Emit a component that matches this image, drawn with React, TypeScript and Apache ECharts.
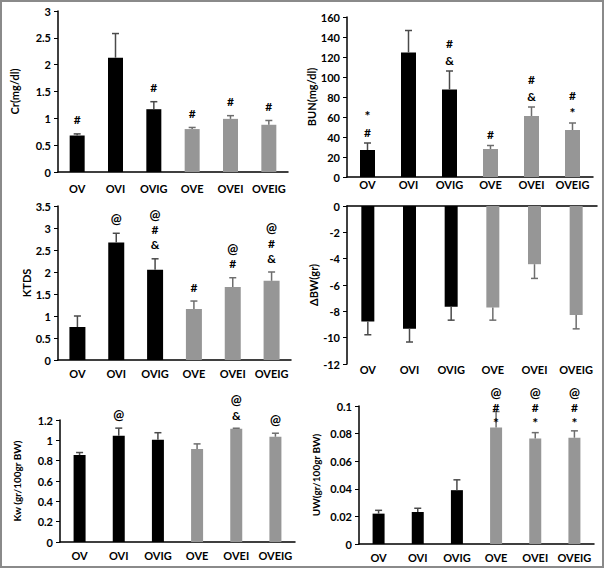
import React, { useEffect, useRef } from "react";
import * as echarts from "echarts";

const categories = ["OV", "OVI", "OVIG", "OVE", "OVEI", "OVEIG"];

const crMean = [0.68, 2.13, 1.17, 0.8, 0.99, 0.88];
const crSem = [0.03, 0.45, 0.14, 0.03, 0.06, 0.08];
const crAnn = [["#"], [], ["#"], ["#"], ["#"], ["#"]];

const bunMean = [27, 124.5, 87.5, 28, 61, 47];
const bunSem = [7, 22, 18.5, 3.5, 9, 7];
const bunAnn = [["*", "#"], [], ["#", "&"], ["#"], ["#", "&"], ["#", "*"]];

const ktdsMean = [0.75, 2.67, 2.05, 1.16, 1.66, 1.8];
const ktdsSem = [0.25, 0.21, 0.25, 0.18, 0.21, 0.2];
const ktdsAnn = [[], ["@"], ["@", "#", "&"], ["#"], ["@", "#"], ["@", "#", "&"]];

const bwMean = [-8.78, -9.33, -7.65, -7.7, -4.42, -8.28];
const bwSem = [1.0, 1.0, 1.02, 0.97, 1.08, 1.05];

const kwMean = [0.855, 1.045, 1.005, 0.915, 1.115, 1.035];
const kwSem = [0.025, 0.075, 0.07, 0.05, 0.004, 0.035];
const kwAnn = [[], ["@"], [], [], ["@", "&"], ["@"]];

const uwMean = [0.022, 0.0232, 0.039, 0.0845, 0.0765, 0.077];
const uwSem = [0.0024, 0.0027, 0.0075, 0.0115, 0.0042, 0.005];
const uwAnn = [[], [], [], ["@", "#", "*"], ["@", "#", "*"], ["@", "#", "*"]];

const FONT = "Lato";
const BLACK = "#000000";
const GRAY = "#969696";

type Panel = {
  mean: number[];
  sem: number[];
  ann: string[][];
  name: string;
  min: number;
  max: number;
  interval: number;
  grid: { left: number; top: number; width: number; height: number };
  barWidth: number;
  nameGap: number;
  labelMargin: number;
  annOffset: number;
  annBase?: number;
  annStep: number;
  nameSize: number;
};

const panels: Panel[] = [
  { mean: crMean, sem: crSem, ann: crAnn, name: "Cr(mg/dl)", min: 0, max: 3, interval: 0.5,
    grid: { left: 58, top: 11, width: 230, height: 161 }, barWidth: 15, nameGap: 38, labelMargin: 11, annOffset: 14, annStep: 16, nameSize: 11 },
  { mean: bunMean, sem: bunSem, ann: bunAnn, name: "BUN(mg/dl)", min: 0, max: 160, interval: 20,
    grid: { left: 347, top: 17, width: 246, height: 160 }, barWidth: 15, nameGap: 25, labelMargin: 2, annOffset: 11, annStep: 17, nameSize: 11 },
  { mean: ktdsMean, sem: ktdsSem, ann: ktdsAnn, name: "KTDS", min: 0, max: 3.5, interval: 0.5,
    grid: { left: 58, top: 206, width: 233, height: 154 }, barWidth: 16, nameGap: 24, labelMargin: 8, annOffset: 14, annStep: 15, nameSize: 11 },
  { mean: bwMean, sem: bwSem, ann: [[], [], [], [], [], []], name: "ΔBW(gr)", min: -12, max: 0, interval: 2,
    grid: { left: 347, top: 206, width: 250, height: 158 }, barWidth: 13, nameGap: 26, labelMargin: 0, annOffset: 14, annStep: 15, nameSize: 11 },
  { mean: kwMean, sem: kwSem, ann: kwAnn, name: "Kw (gr/100gr BW)", min: 0, max: 1.2, interval: 0.2,
    grid: { left: 60, top: 420, width: 235, height: 122 }, barWidth: 12, nameGap: 38, labelMargin: 8, annOffset: 13, annStep: 15, nameSize: 10 },
  { mean: uwMean, sem: uwSem, ann: uwAnn, name: "UW(gr/100gr BW)", min: 0, max: 0.1, interval: 0.02,
    grid: { left: 359, top: 406, width: 235, height: 138 }, barWidth: 12, nameGap: 38, labelMargin: 8, annOffset: 0, annBase: 0.088, annStep: 15, nameSize: 10 },
];

export default function App() {
  const ref = useRef<HTMLDivElement>(null);

  useEffect(() => {
    if (!ref.current) return;
    const chart = echarts.init(ref.current, null, { renderer: "svg" });

    const labelStyle = { fontFamily: FONT, fontWeight: "bold", fontSize: 11, color: "#000" };

    const xAxis: any[] = panels.map((p, i) => ({
      type: "category",
      gridIndex: i,
      data: categories,
      position: i === 3 ? "top" : "bottom",
      axisLine: { show: true, onZero: false, lineStyle: { color: "#000", width: 1.5 } },
      axisTick: { show: false },
      axisLabel: { show: i !== 3, interval: 0, ...labelStyle, margin: p.labelMargin },
      splitLine: { show: false },
    }));
    xAxis.push({
      type: "category",
      gridIndex: 3,
      data: categories,
      position: "bottom",
      axisLine: { show: false, onZero: false },
      axisTick: { show: false },
      axisLabel: { interval: 0, ...labelStyle, margin: 0 },
      splitLine: { show: false },
    });

    const yAxis = panels.map((p, i) => ({
      type: "value",
      gridIndex: i,
      min: p.min,
      max: p.max,
      interval: p.interval,
      name: p.name,
      nameLocation: "middle",
      nameGap: p.nameGap,
      nameTextStyle: { fontFamily: FONT, fontWeight: "bold", fontSize: p.nameSize, color: "#000" },
      axisLine: { show: true, lineStyle: { color: "#000", width: 1.5 } },
      axisTick: { show: true, length: 4, lineStyle: { color: "#000", width: 1 } },
      axisLabel: { ...labelStyle, margin: 7 },
      splitLine: { show: false },
    }));

    const series: any[] = [];
    panels.forEach((p, i) => {
      series.push({
        type: "bar",
        xAxisIndex: i,
        yAxisIndex: i,
        barWidth: p.barWidth,
        data: p.mean.map((v, k) => ({ value: v, itemStyle: { color: k < 3 ? BLACK : GRAY } })),
      });
      series.push({
        type: "custom",
        xAxisIndex: i,
        yAxisIndex: i,
        z: 5,
        encode: { x: 0, y: [1, 2] },
        data: p.mean.map((v, k) => [k, v, v + (v < 0 ? -p.sem[k] : p.sem[k])]),
        renderItem: (params: any, api: any) => {
          const k = api.value(0);
          const v = api.value(1);
          const e = api.value(2);
          const a = api.coord([k, v]);
          const b = api.coord([k, e]);
          const color = k < 3 ? "#4a4a4a" : "#6e6e6e";
          const children: any[] = [
            { type: "line", shape: { x1: a[0], y1: a[1], x2: b[0], y2: b[1] }, style: { stroke: color, lineWidth: 1.5 } },
            { type: "line", shape: { x1: b[0] - 3.5, y1: b[1], x2: b[0] + 3.5, y2: b[1] }, style: { stroke: color, lineWidth: 1.5 } },
          ];
          const ann = p.ann[params.dataIndex] || [];
          const n = ann.length;
          const baseY = p.annBase !== undefined ? api.coord([k, p.annBase])[1] : b[1] - p.annOffset;
          ann.forEach((t, j) => {
            const y = baseY - (n - 1 - j) * p.annStep;
            children.push({
              type: "text",
              style: {
                text: t,
                x: b[0],
                y,
                align: "center",
                verticalAlign: "middle",
                fontFamily: FONT,
                fontWeight: "bold",
                fontSize: t === "@" ? 13 : t === "*" ? 14 : 12,
                fill: "#000",
              },
            });
          });
          return { type: "group", children };
        },
      });
    });

    chart.setOption({
      animation: false,
      backgroundColor: "#ffffff",
      grid: panels.map((p) => ({ ...p.grid, containLabel: false })),
      xAxis,
      yAxis,
      series,
      graphic: [
        {
          type: "rect",
          shape: { x: 1, y: 1, width: 602, height: 566 },
          style: { fill: "none", stroke: "#8a8a8a", lineWidth: 2 },
          silent: true,
          z: 100,
        },
      ],
    });

    return () => chart.dispose();
  }, []);

  return (
    <div
      ref={ref}
      style={{ position: "absolute", left: 0, top: 0, width: 605, height: 569 }}
    />
  );
}
